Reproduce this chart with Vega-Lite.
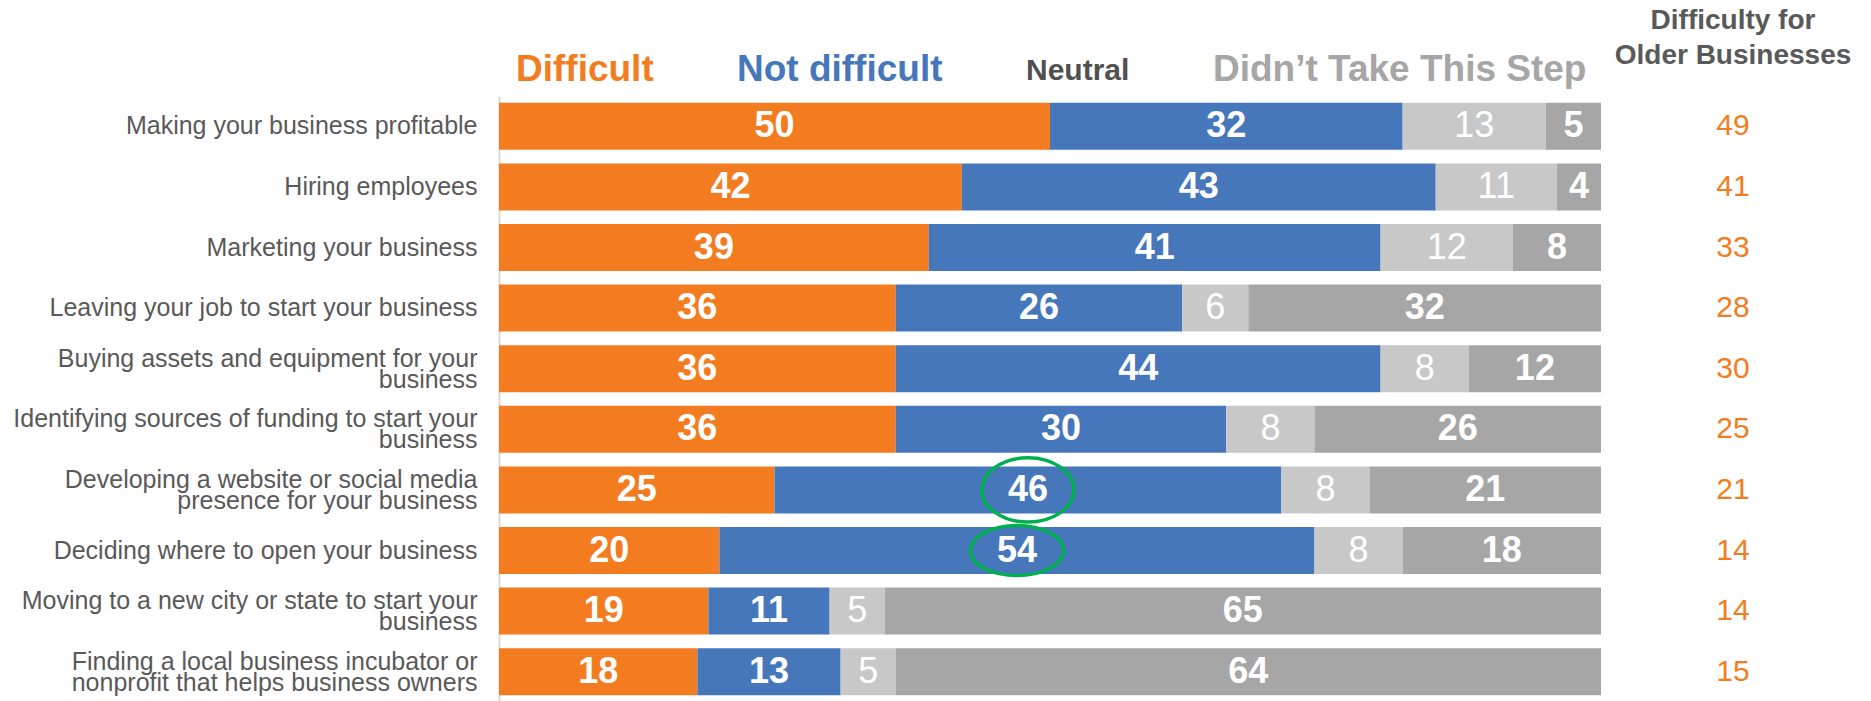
{
  "$schema": "https://vega.github.io/schema/vega-lite/v6.json",
  "autosize": {"type": "pad"},
  "padding": {"left": 12, "top": 7, "right": 0, "bottom": 0},
  "background": "white",
  "bounds": "flush",
  "spacing": 22,
  "resolve": {"legend": {"color": "independent"}, "scale": {"y": "independent"}},
  "config": {
    "font": "Liberation Sans",
    "view": {"stroke": null}
  },
  "datasets": {
    "main": [
      {"item": "Making your business profitable", "category": "Difficult", "value": 50},
      {"item": "Making your business profitable", "category": "Not difficult", "value": 32},
      {"item": "Making your business profitable", "category": "Neutral", "value": 13},
      {"item": "Making your business profitable", "category": "Didn’t Take This Step", "value": 5},
      {"item": "Hiring employees", "category": "Difficult", "value": 42},
      {"item": "Hiring employees", "category": "Not difficult", "value": 43},
      {"item": "Hiring employees", "category": "Neutral", "value": 11},
      {"item": "Hiring employees", "category": "Didn’t Take This Step", "value": 4},
      {"item": "Marketing your business", "category": "Difficult", "value": 39},
      {"item": "Marketing your business", "category": "Not difficult", "value": 41},
      {"item": "Marketing your business", "category": "Neutral", "value": 12},
      {"item": "Marketing your business", "category": "Didn’t Take This Step", "value": 8},
      {"item": "Leaving your job to start your business", "category": "Difficult", "value": 36},
      {"item": "Leaving your job to start your business", "category": "Not difficult", "value": 26},
      {"item": "Leaving your job to start your business", "category": "Neutral", "value": 6},
      {"item": "Leaving your job to start your business", "category": "Didn’t Take This Step", "value": 32},
      {"item": "Buying assets and equipment for your\nbusiness", "category": "Difficult", "value": 36},
      {"item": "Buying assets and equipment for your\nbusiness", "category": "Not difficult", "value": 44},
      {"item": "Buying assets and equipment for your\nbusiness", "category": "Neutral", "value": 8},
      {"item": "Buying assets and equipment for your\nbusiness", "category": "Didn’t Take This Step", "value": 12},
      {"item": "Identifying sources of funding to start your\nbusiness", "category": "Difficult", "value": 36},
      {"item": "Identifying sources of funding to start your\nbusiness", "category": "Not difficult", "value": 30},
      {"item": "Identifying sources of funding to start your\nbusiness", "category": "Neutral", "value": 8},
      {"item": "Identifying sources of funding to start your\nbusiness", "category": "Didn’t Take This Step", "value": 26},
      {"item": "Developing a website or social media\npresence for your business", "category": "Difficult", "value": 25},
      {"item": "Developing a website or social media\npresence for your business", "category": "Not difficult", "value": 46},
      {"item": "Developing a website or social media\npresence for your business", "category": "Neutral", "value": 8},
      {"item": "Developing a website or social media\npresence for your business", "category": "Didn’t Take This Step", "value": 21},
      {"item": "Deciding where to open your business", "category": "Difficult", "value": 20},
      {"item": "Deciding where to open your business", "category": "Not difficult", "value": 54},
      {"item": "Deciding where to open your business", "category": "Neutral", "value": 8},
      {"item": "Deciding where to open your business", "category": "Didn’t Take This Step", "value": 18},
      {"item": "Moving to a new city or state to start your\nbusiness", "category": "Difficult", "value": 19},
      {"item": "Moving to a new city or state to start your\nbusiness", "category": "Not difficult", "value": 11},
      {"item": "Moving to a new city or state to start your\nbusiness", "category": "Neutral", "value": 5},
      {"item": "Moving to a new city or state to start your\nbusiness", "category": "Didn’t Take This Step", "value": 65},
      {"item": "Finding a local business incubator or\nnonprofit that helps business owners", "category": "Difficult", "value": 18},
      {"item": "Finding a local business incubator or\nnonprofit that helps business owners", "category": "Not difficult", "value": 13},
      {"item": "Finding a local business incubator or\nnonprofit that helps business owners", "category": "Neutral", "value": 5},
      {"item": "Finding a local business incubator or\nnonprofit that helps business owners", "category": "Didn’t Take This Step", "value": 64}
    ],
    "older": [
      {"item": "Making your business profitable", "older": 49},
      {"item": "Hiring employees", "older": 41},
      {"item": "Marketing your business", "older": 33},
      {"item": "Leaving your job to start your business", "older": 28},
      {"item": "Buying assets and equipment for your\nbusiness", "older": 30},
      {"item": "Identifying sources of funding to start your\nbusiness", "older": 25},
      {"item": "Developing a website or social media\npresence for your business", "older": 21},
      {"item": "Deciding where to open your business", "older": 14},
      {"item": "Moving to a new city or state to start your\nbusiness", "older": 14},
      {"item": "Finding a local business incubator or\nnonprofit that helps business owners", "older": 15}
    ]
  },
  "hconcat": [
    {
      "width": 1102,
      "height": 606,
      "data": {"name": "main"},
      "transform": [
        {"calculate": "indexof(['Difficult','Not difficult','Neutral','Didn’t Take This Step'], datum.category)", "as": "order"},
        {"stack": "value", "groupby": ["item"], "sort": [{"field": "order", "order": "ascending"}], "as": ["x0", "x1"]},
        {"calculate": "(datum.x0 + datum.x1) / 2", "as": "mid"}
      ],
      "encoding": {
        "y": {
          "field": "item", "type": "nominal", "sort": null,
          "scale": {"paddingInner": 0.224, "paddingOuter": 0.112},
          "axis": {
            "title": null, "ticks": false, "domain": true, "domainColor": "#D9D9D9", "domainWidth": 2,
            "labelFontSize": 25, "labelColor": "#595959", "labelPadding": 22, "labelLimit": 600,
            "labelLineHeight": 21, "labelExpr": "split(datum.label, '\\n')",
            "labelOffset": {"condition": {"test": "indexof(datum.value, '\\n') >= 0", "value": -10}, "value": 0}
          }
        }
      },
      "layer": [
        {
          "mark": {"type": "bar"},
          "encoding": {
            "x": {"field": "x0", "type": "quantitative", "scale": {"domain": [0, 100], "nice": false, "zero": true}, "axis": null},
            "x2": {"field": "x1"},
            "color": {
              "field": "category", "type": "nominal",
              "scale": {
                "domain": ["Difficult", "Not difficult", "Neutral", "Didn’t Take This Step"],
                "range": ["#F47C20", "#4677BA", "#C8C8C8", "#A6A6A6"]
              },
              "legend": {
                "orient": "top", "direction": "horizontal", "title": null,
                "offset": 8, "padding": 0, "columnPadding": 66,
                "symbolOpacity": 0, "symbolSize": 0, "symbolStrokeWidth": 0, "labelOffset": -20,
                "labelFont": "Liberation Sans", "labelFontWeight": "bold", "labelFontSize": 37, "labelLimit": 600,
                "labelBaseline": "middle",
                "encode": {
                  "labels": {
                    "update": {
                      "fill": {"signal": "datum.value === 'Difficult' ? '#F47C20' : datum.value === 'Not difficult' ? '#4677BA' : datum.value === 'Neutral' ? '#505050' : '#A6A6A6'"},
                      "fontSize": {"signal": "datum.value === 'Neutral' ? 30 : 37"}
                    }
                  }
                }
              }
            }
          }
        },
        {
          "transform": [{"filter": "datum.category !== 'Neutral'"}],
          "mark": {"type": "text", "color": "white", "fontSize": 36, "fontWeight": "bold", "baseline": "middle", "align": "center"},
          "encoding": {
            "x": {"field": "mid", "type": "quantitative"},
            "text": {"field": "value", "type": "quantitative"}
          }
        },
        {
          "transform": [{"filter": "datum.category === 'Neutral'"}],
          "mark": {"type": "text", "color": "white", "fontSize": 36, "fontWeight": "normal", "baseline": "middle", "align": "center"},
          "encoding": {
            "x": {"field": "mid", "type": "quantitative"},
            "text": {"field": "value", "type": "quantitative"}
          }
        },
        {
          "transform": [{"filter": "indexof(datum.item, 'Developing') === 0 && datum.category === 'Not difficult'"}],
          "mark": {"type": "point", "shape": "M -1 0 A 1 0.7 0 1 1 1 0 A 1 0.7 0 1 1 -1 0 Z", "size": 8464, "filled": false, "stroke": "#00B050", "strokeWidth": 3.5, "opacity": 1},
          "encoding": {
            "x": {"field": "mid", "type": "quantitative"}
          }
        },
        {
          "transform": [{"filter": "indexof(datum.item, 'Deciding') === 0 && datum.category === 'Not difficult'"}],
          "mark": {"type": "point", "shape": "M -1 0 A 1 0.54 0 1 1 1 0 A 1 0.54 0 1 1 -1 0 Z", "size": 8649, "filled": false, "stroke": "#00B050", "strokeWidth": 3.5, "opacity": 1},
          "encoding": {
            "x": {"field": "mid", "type": "quantitative"}
          }
        }
      ]
    },
    {
      "width": 220,
      "height": 606,
      "data": {"name": "older"},
      "title": {
        "text": ["Difficulty for", "Older Businesses"],
        "fontSize": 28, "fontWeight": "bold", "color": "#595959",
        "anchor": "middle", "frame": "group", "lineHeight": 35, "offset": 26
      },
      "mark": {"type": "text", "color": "#F47C20", "fontSize": 30, "baseline": "middle", "align": "center"},
      "encoding": {
        "y": {"field": "item", "type": "nominal", "sort": null, "scale": {"paddingInner": 0.224, "paddingOuter": 0.112}, "axis": null},
        "text": {"field": "older", "type": "quantitative"}
      }
    }
  ]
}
